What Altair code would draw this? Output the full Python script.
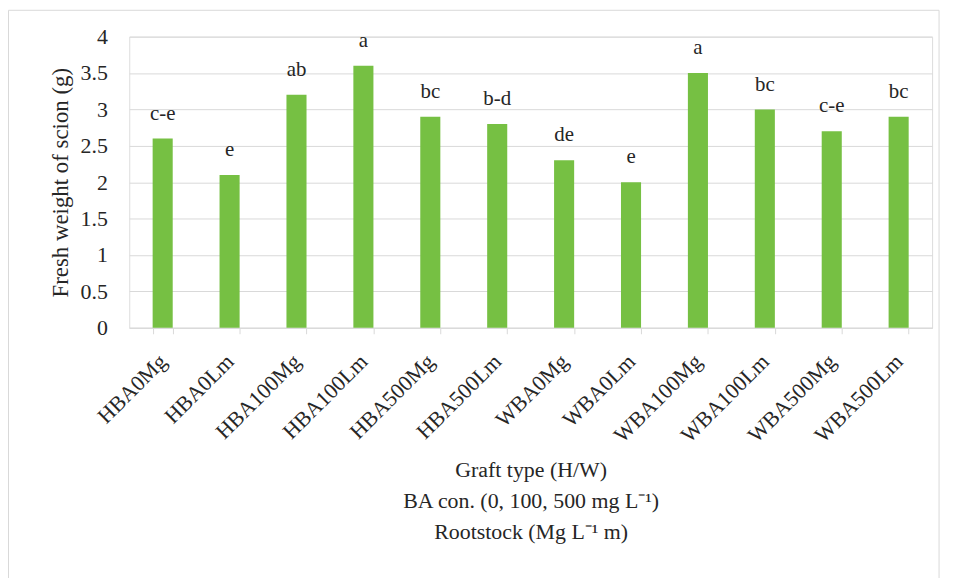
import altair as alt
import pandas as pd

categories = ["HBA0Mg", "HBA0Lm", "HBA100Mg", "HBA100Lm", "HBA500Mg", "HBA500Lm",
              "WBA0Mg", "WBA0Lm", "WBA100Mg", "WBA100Lm", "WBA500Mg", "WBA500Lm"]
values = [2.6, 2.1, 3.2, 3.6, 2.9, 2.8, 2.3, 2.0, 3.5, 3.0, 2.7, 2.9]
letters = ["c-e", "e", "ab", "a", "bc", "b-d", "de", "e", "a", "bc", "c-e", "bc"]
y_ticks = [0, 0.5, 1, 1.5, 2, 2.5, 3, 3.5, 4]
x_title = ["Graft type (H/W)", "BA con. (0, 100, 500 mg L\u207b\u00b9)", "Rootstock (Mg L\u207b\u00b9 m)"]
y_title = "Fresh weight of scion (g)"

df = pd.DataFrame({"cat": categories, "val": values, "lab": letters})

FONT = "Liberation Serif"
GRAY = "#d9d9d9"
INK = "#262626"

x_enc = alt.X(
    "cat:N", sort=categories,
    scale=alt.Scale(paddingInner=0.7, paddingOuter=0.35),
    axis=alt.Axis(
        title=x_title, labelAngle=-45, labelAlign="right", labelBaseline="middle",
        labelPadding=24, labelFontSize=22, labelFont=FONT, labelColor=INK,
        tickBand="extent", tickSize=6, tickColor=GRAY, domainColor=GRAY,
        titleFont=FONT, titleFontSize=22, titleFontWeight="normal", titleColor=INK,
        titleLineHeight=31, titlePadding=14, labelOverlap=False,
    ),
)
y_enc = alt.Y(
    "val:Q",
    scale=alt.Scale(domain=[0, 4], nice=False),
    axis=alt.Axis(
        values=y_ticks, tickCount=9, format="~g", title=y_title, grid=True, gridColor=GRAY,
        domain=False, ticks=False, labelPadding=22, labelFontSize=22, labelFont=FONT,
        labelColor=INK, titleFont=FONT, titleFontSize=23, titleFontWeight="normal",
        titleColor=INK, titlePadding=8, labelOverlap=False,
    ),
)

bars = alt.Chart(df).mark_bar(color="#76c043").encode(x=x_enc, y=y_enc)
text = alt.Chart(df).mark_text(
    baseline="alphabetic", dy=-19, fontSize=21, font=FONT, color=INK
).encode(x=x_enc, y=y_enc, text="lab:N")

frame = alt.Chart(pd.DataFrame({"k": [0]})).mark_rect(
    fill=None, stroke=GRAY, strokeWidth=1
).encode(
    x=alt.value(-121.5), x2=alt.value(815), y=alt.value(-26.5), y2=alt.value(620)
)

chart = alt.layer(bars, text, frame).properties(
    width=808, height=293,
    autosize=alt.AutoSizeParams(type="none"),
    padding={"left": 122, "top": 27, "right": 15, "bottom": 250},
).configure_view(stroke=None).configure(background="white")

chart.save("out.html", embed_options={"renderer": "svg", "actions": False})
